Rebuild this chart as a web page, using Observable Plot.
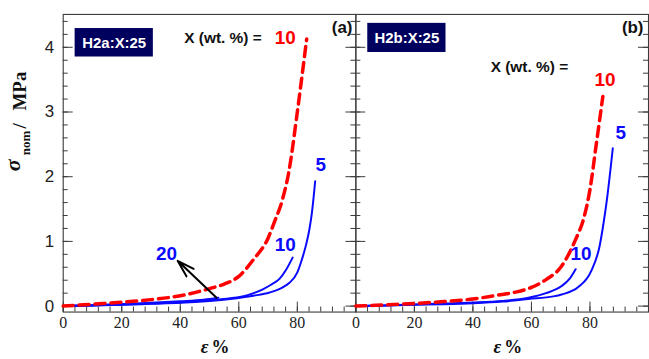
<!DOCTYPE html>
<html><head><meta charset="utf-8">
<script src="https://cdn.jsdelivr.net/npm/d3@7"></script>
<script src="https://cdn.jsdelivr.net/npm/@observablehq/plot@0.6"></script>
<style>html,body{margin:0;padding:0;overflow:hidden;background:#fff}</style>
</head><body><div id="chart"></div>
<script>
// ---- data (strain ε %, nominal stress σ_nom MPa) ----
const panels = ["a", "b"];
const xTickLabels = [0, 20, 40, 60, 80];
const yTickLabels = [0, 1, 2, 3, 4];

// Panel (a) H2a:X:25
const strainA10 = [0, 10, 20, 30, 40, 50, 55, 60, 65, 70, 72, 75, 77, 80, 82, 83.2];
const stressA10 = [0, 0.03, 0.06, 0.1, 0.16, 0.27, 0.34, 0.46, 0.72, 1.05, 1.28, 1.66, 2.05, 3.0, 3.7, 4.13];
const strainA5 = [0, 10, 20, 30, 40, 50, 57, 65, 70.5, 75, 77.3, 80, 81.2, 83, 84.1, 85, 86.1];
const stressA5 = [0, 0.01, 0.02, 0.035, 0.05, 0.08, 0.11, 0.16, 0.21, 0.29, 0.36, 0.52, 0.67, 0.95, 1.18, 1.45, 1.93];
const strainA10b = [0, 10, 20, 30, 40, 50, 57, 63, 68.2, 71, 73.9, 76, 78.4];
const stressA10b = [0, 0.01, 0.025, 0.04, 0.06, 0.09, 0.12, 0.17, 0.26, 0.33, 0.42, 0.55, 0.75];
const strainA20 = [0, 10, 20, 30, 40, 48, 53];
const stressA20 = [0, 0.015, 0.03, 0.05, 0.075, 0.1, 0.13];

// Panel (b) H2b:X:25
const strainB10 = [0, 10, 20, 30, 40, 50, 55, 60, 65, 70, 75, 78, 80, 82, 84.4];
const stressB10 = [0, 0.02, 0.04, 0.07, 0.11, 0.18, 0.22, 0.29, 0.41, 0.6, 1.02, 1.38, 1.8, 2.45, 3.24];
const strainB5 = [0, 10, 20, 30, 40, 50, 59, 67.5, 70.3, 75.9, 80.4, 83.3, 84.7, 85.8, 87.8];
const stressB5 = [0, 0.01, 0.02, 0.03, 0.045, 0.07, 0.11, 0.15, 0.18, 0.29, 0.54, 0.93, 1.3, 1.65, 2.44];
const strainB10b = [0, 10, 20, 30, 40, 50, 59, 65, 70.3, 73, 75.1];
const stressB10b = [0, 0.01, 0.025, 0.04, 0.055, 0.08, 0.13, 0.2, 0.31, 0.42, 0.57];

const series = [
  {panel: "a", id: "a-red10", kind: "dashed", strain: strainA10, stress: stressA10},
  {panel: "a", id: "a-blue5", kind: "solid", strain: strainA5, stress: stressA5},
  {panel: "a", id: "a-blue10", kind: "solid", strain: strainA10b, stress: stressA10b},
  {panel: "a", id: "a-blue20", kind: "solid", strain: strainA20, stress: stressA20},
  {panel: "b", id: "b-red10", kind: "dashed", strain: strainB10, stress: stressB10},
  {panel: "b", id: "b-blue5", kind: "solid", strain: strainB5, stress: stressB5},
  {panel: "b", id: "b-blue10", kind: "solid", strain: strainB10b, stress: stressB10b}
];
const rows = series.flatMap(s => s.strain.map((e, i) => ({panel: s.panel, id: s.id, kind: s.kind, strain: e, stress: s.stress[i]})));

const yMin = -0.092, yMax = 4.508;
const yMinor = d3.range(0, 4.41, 0.2);
const xMinor = d3.range(0, 100, 4);
const axisColor = "#3a3a3a";
const blue = "#0a0aff", red = "#ff0000", navy = "#00005e";
const serif = "'Liberation Serif', 'Times New Roman', serif";

const labels = [
  {panel: "a", x: 95.3, y: 4.31, text: "(a)", fill: "#111", size: 17},
  {panel: "b", x: 94.6, y: 4.31, text: "(b)", fill: "#111", size: 17},
  {panel: "a", x: 54.6, y: 4.15, text: "X (wt. %) =", fill: "#111", size: 15.5},
  {panel: "b", x: 59.3, y: 3.69, text: "X (wt. %) =", fill: "#111", size: 15.5},
  {panel: "a", x: 75.9, y: 4.14, text: "10", fill: red, size: 19},
  {panel: "b", x: 85.1, y: 3.5, text: "10", fill: red, size: 19},
  {panel: "a", x: 88.0, y: 2.18, text: "5", fill: blue, size: 19},
  {panel: "b", x: 90.5, y: 2.68, text: "5", fill: blue, size: 19},
  {panel: "a", x: 75.9, y: 0.95, text: "10", fill: blue, size: 19},
  {panel: "b", x: 76.9, y: 0.8, text: "10", fill: blue, size: 19},
  {panel: "a", x: 35.3, y: 0.8, text: "20", fill: blue, size: 19}
];
const boxes = [
  {panel: "a", x1: 4.07, x2: 30.8, y1: 3.85, y2: 4.29, text: "H2a:X:25"},
  {panel: "b", x1: 4.07, x2: 30.8, y1: 3.92, y2: 4.37, text: "H2b:X:25"}
];
const arrows = [{panel: "a", x1: 52.4, y1: 0.13, x2: 39.1, y2: 0.70}];

const chart = Plot.plot({
  width: 652, height: 359,
  marginLeft: 62, marginRight: 1, marginTop: 14, marginBottom: 46,
  style: {fontFamily: "Liberation Sans", background: "#fff"},
  fx: {domain: panels, padding: 0, axis: null, label: null},
  x: {domain: [0, 100], axis: null},
  y: {domain: [yMin, yMax], axis: null},
  marks: [
    // inward ticks
    Plot.ruleY(yMinor, {x1: 0, x2: 1.7, stroke: axisColor}),
    Plot.ruleY(yTickLabels, {x1: 0, x2: 3.4, stroke: axisColor}),
    Plot.ruleY(yMinor, {x1: 100 - 1.7, x2: 100, stroke: axisColor}),
    Plot.ruleY(yTickLabels, {x1: 100 - 3.4, x2: 100, stroke: axisColor}),
    Plot.ruleX(xMinor, {y1: yMin, y2: yMin + 0.077, stroke: axisColor}),
    Plot.ruleX(xTickLabels, {y1: yMin, y2: yMin + 0.154, stroke: axisColor}),
    Plot.frame({stroke: axisColor, strokeWidth: 1.1}),
    // tick labels
    Plot.text(yTickLabels, {fx: () => "a", x: 0, y: d => d, text: d => String(d), dx: -9, textAnchor: "end", fontSize: 17, fontFamily: "Liberation Sans", fill: "#222"}),
    Plot.text(xTickLabels, {x: d => d, y: yMin, text: d => String(d), dy: 11, fontSize: 16, fontFamily: serif, fill: "#222"}),
    // curves
    Plot.line(rows.filter(d => d.kind === "solid"), {fx: "panel", x: "strain", y: "stress", z: "id", stroke: blue, strokeWidth: 2, curve: "monotone-x"}),
    Plot.line(rows.filter(d => d.kind === "dashed"), {fx: "panel", x: "strain", y: "stress", z: "id", stroke: red, strokeWidth: 3.5, strokeDasharray: "10,6", curve: "monotone-x"}),
    // annotations
    Plot.rect(boxes, {fx: "panel", x1: "x1", x2: "x2", y1: "y1", y2: "y2", fill: navy}),
    Plot.text(boxes, {fx: "panel", x: d => (d.x1 + d.x2) / 2, y: d => (d.y1 + d.y2) / 2, text: "text", fill: "#fff", fontWeight: "bold", fontSize: 15}),
    Plot.text(labels, {fx: "panel", x: "x", y: "y", text: "text", fill: "fill", fontSize: "size", fontWeight: "bold"}),
    Plot.arrow(arrows, {fx: "panel", x1: "x1", y1: "y1", x2: "x2", y2: "y2", stroke: "#000", strokeWidth: 2, headLength: 24, headAngle: 34}),
    // x-axis titles
    Plot.text(panels, {fx: d => d, text: () => "ε", frameAnchor: "bottom", dy: 35, dx: -1, textAnchor: "end", lineAnchor: "middle", fontFamily: serif, fontStyle: "italic", fontWeight: "bold", fontSize: 19, fill: "#111"}),
    Plot.text(panels, {fx: d => d, text: () => "%", frameAnchor: "bottom", dy: 35, dx: 2, textAnchor: "start", lineAnchor: "middle", fontFamily: serif, fontWeight: "bold", fontSize: 18, fill: "#111"})
  ]
});
document.getElementById("chart").appendChild(chart);

// y-axis title with subscript
const svg = d3.select(chart);
const ylab = svg.append("g")
  .attr("font-family", serif)
  .attr("font-weight", "bold")
  .attr("fill", "#111")
  .attr("text-anchor", "start");
ylab.append("text").attr("transform", "translate(20,172) rotate(-90)")
  .attr("font-style", "italic").attr("font-size", 22).text("σ");
ylab.append("text").attr("transform", "translate(30,156) rotate(-90)")
  .attr("font-size", 13).text("nom");
ylab.append("text").attr("transform", "translate(26,129) rotate(-90)")
  .attr("font-size", 19).text("/");
ylab.append("text").attr("transform", "translate(26,111) rotate(-90)")
  .attr("font-size", 19).text("MPa");
</script>
</body></html>
